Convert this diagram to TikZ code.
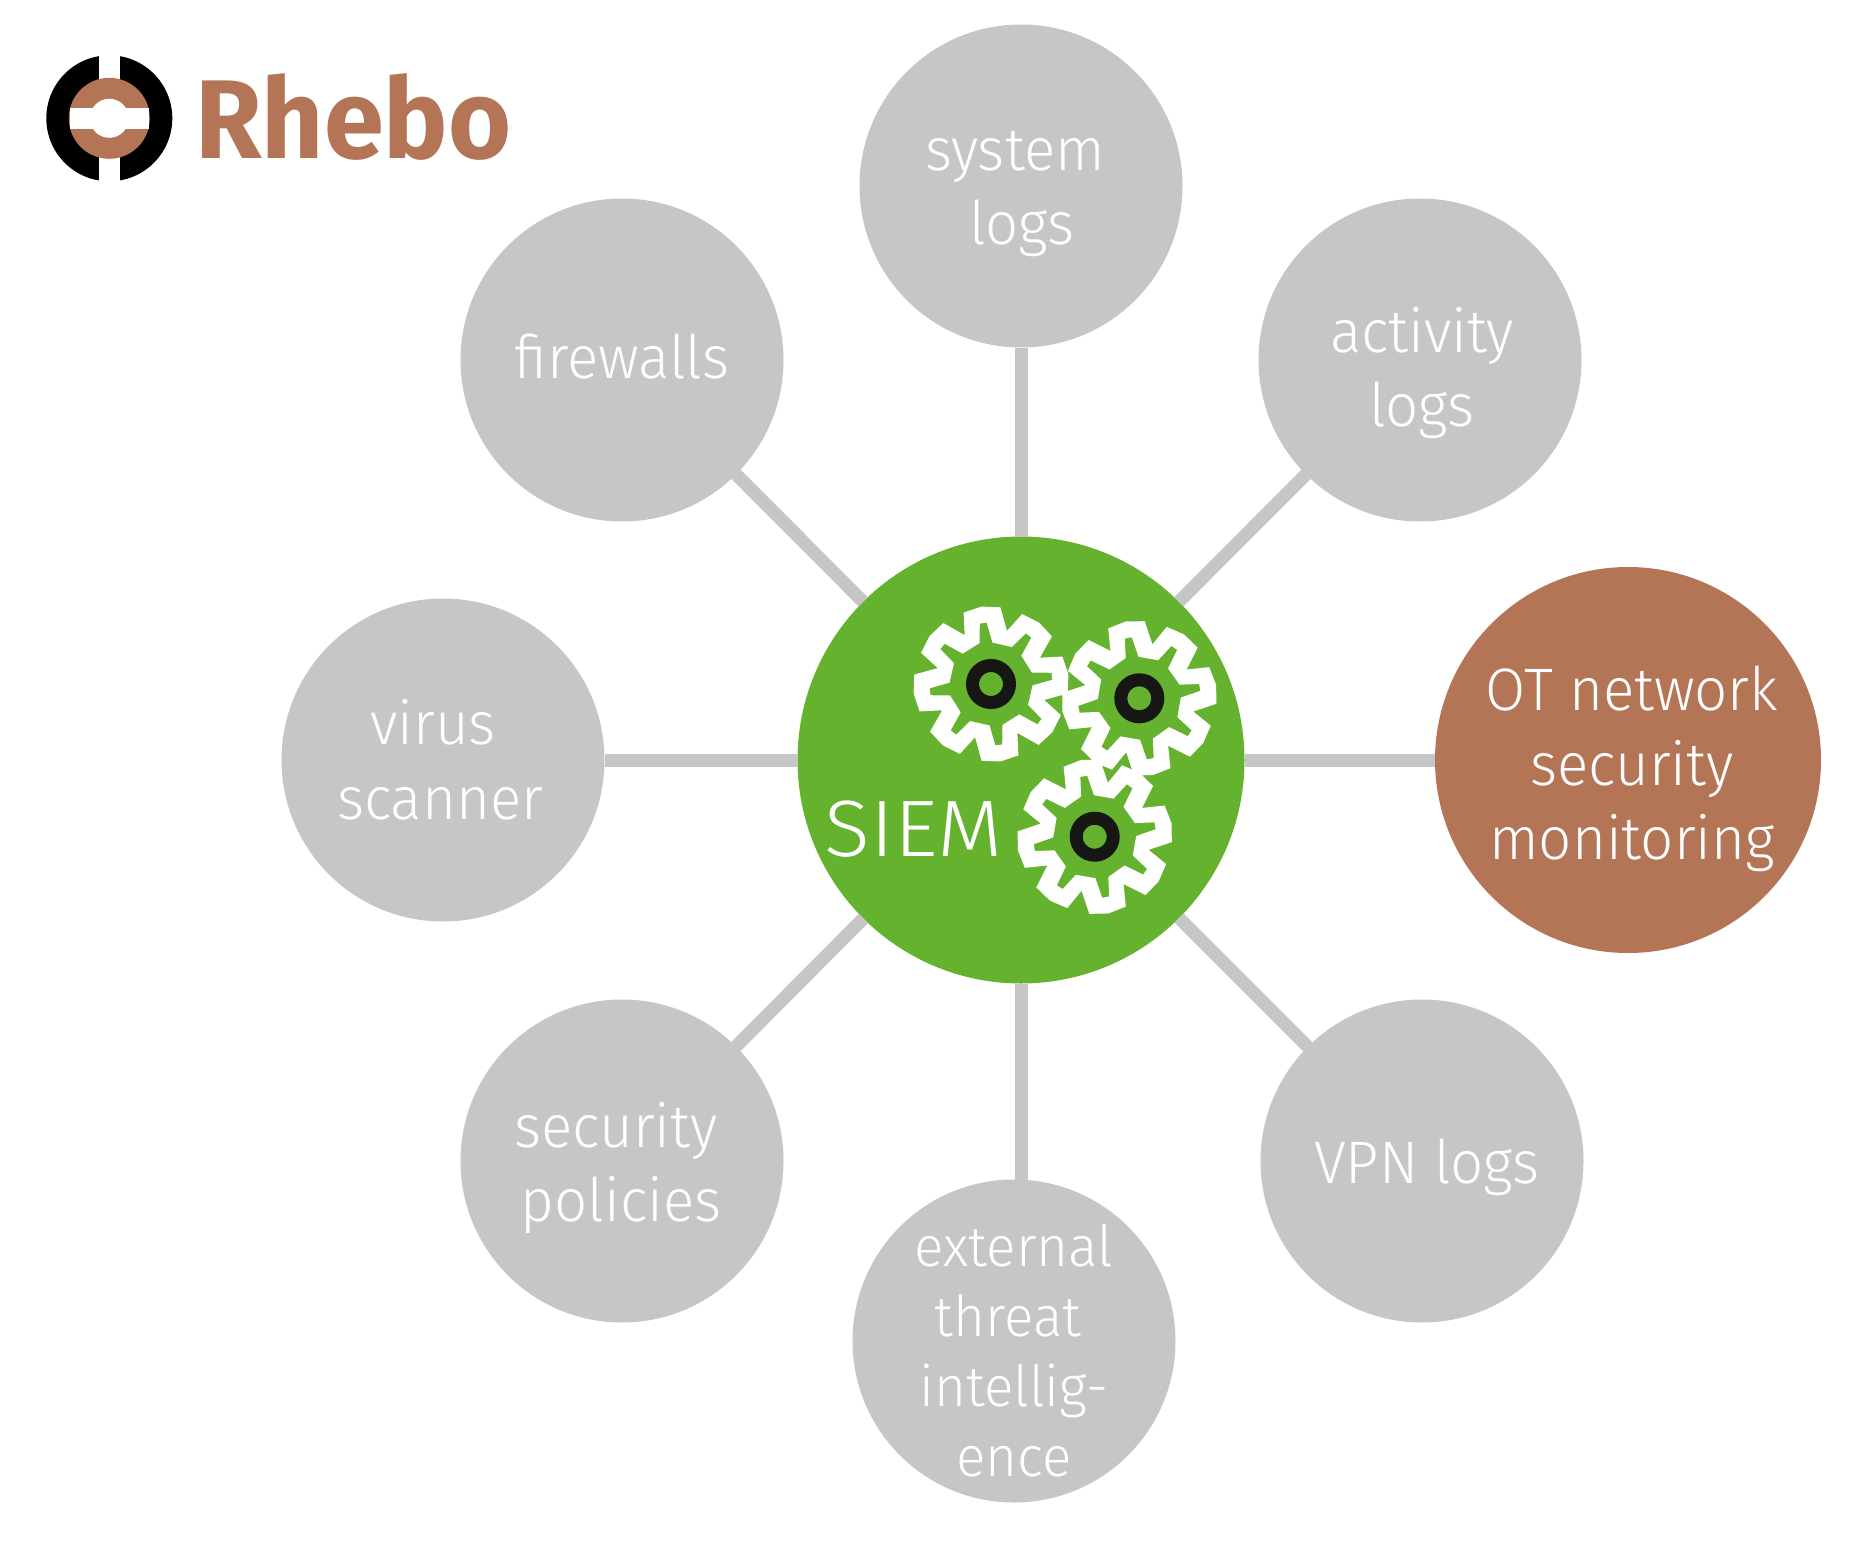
\documentclass[tikz,border=0pt]{standalone}
\usepackage{fontspec}
\setmainfont{Fira Sans Light}[FakeStretch=0.97]
\newfontfamily\siemfont{Fira Sans Light}[FakeStretch=1.06]
\newfontfamily\logofont{Fira Sans}[FakeStretch=0.965]
\definecolor{hubgrey}{HTML}{C6C6C6}
\definecolor{hubgreen}{HTML}{65B22E}
\definecolor{rhebo}{HTML}{B37556}
\definecolor{ringblack}{HTML}{161615}
\tikzset{
  src/.style={circle,fill=hubgrey,inner sep=0pt,outer sep=0pt,minimum size=323pt},
  link/.style={draw=hubgrey,line width=13pt},
  lab/.style={text=white,font=\fontsize{60}{74.6}\selectfont,align=center,inner sep=0pt},
  gearshape/.style={fill=white,even odd rule},
  hubring/.style={draw=ringblack,line width=13pt,circle,inner sep=0pt,minimum size=37pt}
}
\newcommand{\gearat}[3]{%
  \fill[gearshape,shift={(#2,#3)},x=1pt,y=1pt]
    ({#1+111}:76.5pt)
    \foreach \k in {0,...,7}{
      -- ({#1+111-\k*45}:76.5pt) -- ({#1+97-\k*45}:78pt) -- ({#1+83-\k*45}:77.3pt) -- ({#1+73.3-\k*45}:55.5pt)
    } -- cycle
    ({#1+100.5}:61.5pt)
    \foreach \k in {0,...,7}{
      -- ({#1+100.5-\k*45}:61.5pt) -- ({#1+94-\k*45}:61.5pt) -- ({#1+88-\k*45}:41.5pt) -- ({#1+60.7-\k*45}:42.5pt)
    } -- cycle;
}
\begin{document}
\begin{tikzpicture}[x=1pt,y=-1pt]
\useasboundingbox (0,0) rectangle (1857,1552);
% nodes
\node[src] (system) at (1021,186) {};
\node[src] (firewalls) at (622,360) {};
\node[src] (activity) at (1420,360) {};
\node[src] (virus) at (443,760) {};
\node[src] (policies) at (622,1161) {};
\node[src] (vpn) at (1422,1161) {};
\node[src] (threat) at (1014,1341) {};
\node[circle,fill=rhebo,inner sep=0pt,outer sep=0pt,minimum size=386pt] (ot) at (1628,760) {};
\node[circle,fill=hubgreen,inner sep=0pt,outer sep=0pt,minimum size=447pt] (siem) at (1021,760) {};
% connectors
\draw[link] (siem) -- (system);
\draw[link] (siem) -- (firewalls);
\draw[link] (siem) -- (activity);
\draw[link] (siem) -- (virus);
\draw[link] (siem) -- (ot);
\draw[link] (siem) -- (policies);
\draw[link] (siem) -- (vpn);
\draw[link] (siem.south) -- (siem.south |- threat.north);
% labels
\node[lab] (tsystem) at (1015,194) {system\\\hspace*{14pt}logs};
\node[lab] (tfire) at (622,357) {firewalls};
\node[lab] (tact) at (1422,373) {activity\\logs};
\node[lab] (tvirus) at (433,760) {virus\\\hspace*{14pt}scanner};
\node[lab] (tot) at (1632,769) {OT network\\security\\monitoring};
\node[lab] (tpol) at (616,1168) {security\\\hspace*{10pt}policies};
\node[lab] (tvpn) at (1427,1167) {VPN logs};
\node[lab,font=\fontsize{56.5}{70}\selectfont] (tthreat) at (1014,1351) {external\\\mbox{threat\hspace{12pt}}\\intellig-\\ence};
\node[lab,font=\siemfont\fontsize{80}{80}\selectfont] (tsiem) at (914,829) {SIEM};
% gears
\gearat{0}{991}{684}
\gearat{3}{1139.3}{698.3}
\gearat{3}{1094.7}{836.7}
\node[hubring] (r1) at (991,684) {};
\node[hubring] (r2) at (1139.3,698.3) {};
\node[hubring] (r3) at (1094.7,836.7) {};
% logo
\fill[black,even odd rule] (109.3,118.3) circle (63) (109.3,118.3) circle (40);
\fill[white] (98.6,50) rectangle (120,186);
\node[circle,fill=rhebo,inner sep=0pt,minimum size=81pt] (lg) at (109.3,118.3) {};
\fill[white] (69.5,108) rectangle (149.1,128.6);
\node[circle,fill=white,inner sep=0pt,minimum size=39pt] (lh) at (109.3,118.3) {};
\node[text=rhebo,inner sep=0pt,font=\logofont\bfseries\fontsize{112}{112}\selectfont,anchor=base west] (rh) at (195,158) {Rhebo};
\end{tikzpicture}
\end{document}
